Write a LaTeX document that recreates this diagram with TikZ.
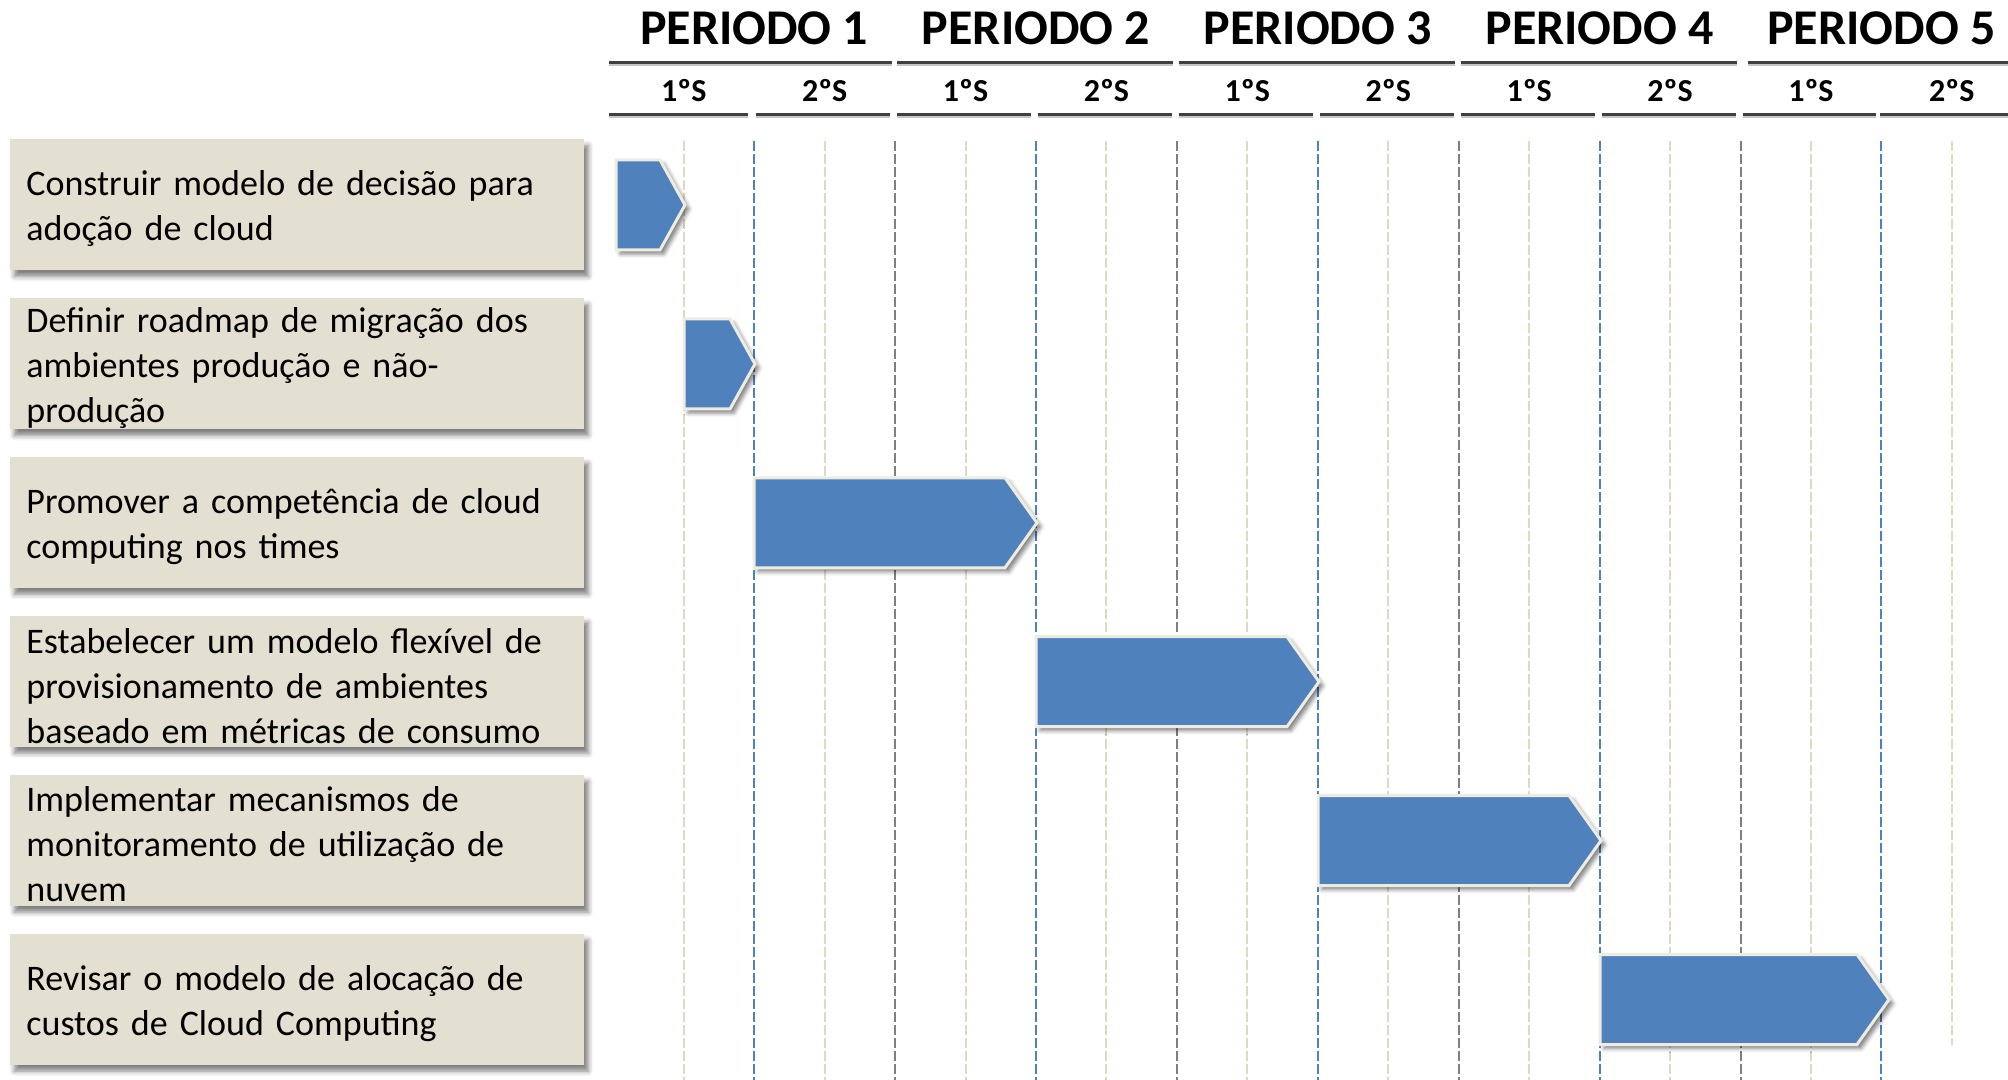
\documentclass[tikz,border=0pt]{standalone}
\usepackage{fontspec}
\setmainfont{Carlito}
\usetikzlibrary{shadows.blur}
\definecolor{taskbg}{RGB}{228,224,209}
\definecolor{barblue}{RGB}{79,129,189}
\definecolor{baredge}{RGB}{238,236,225}
\definecolor{qline}{RGB}{221,217,195}
\definecolor{pline}{RGB}{127,127,127}
\definecolor{hrule}{RGB}{64,64,64}
\tikzset{
  task/.style={fill=taskbg, anchor=west, minimum width=287pt, minimum height=65.5pt,
    inner xsep=8pt, text width=271pt, align=left, font=\fontsize{18}{22.5}\selectfont,
    execute at end node={\par\vspace*{-4pt}},
    blur shadow={shadow xshift=2pt, shadow yshift=-3pt, shadow blur radius=2.5pt, shadow opacity=50}},
  bar/.style={fill=barblue, draw=baredge, line width=1.5pt,
    blur shadow={shadow xshift=2pt, shadow yshift=-2pt, shadow blur radius=2pt, shadow opacity=50}},
  periodo/.style={font=\bfseries\fontsize{25}{30}\selectfont},
  sem/.style={font=\bfseries\fontsize{16}{19}\selectfont},
  toprule/.style={hrule, line width=1.5pt},
  underrule/.style={gray!45, line width=1pt},
  quarter/.style={qline, line width=1pt, dash pattern=on 5pt off 1.5pt},
  half/.style={barblue, line width=1pt, dash pattern=on 5pt off 1.5pt},
  full/.style={pline, line width=1pt, dash pattern=on 5pt off 1.5pt}
}
\begin{document}
\begin{tikzpicture}[x=0.5pt,y=-0.5pt]
\useasboundingbox (0,0) rectangle (2008,1080);

\foreach \k in {1,...,5}
  \node [periodo] (p\k) at (613.3+281.8*\k-140.9,28) {PERIODO \k};
\foreach \k in {1,...,5} {
  \node [sem] (a\k) at (613.3+281.8*\k-211.35,91) {1ºS};
  \node [sem] (b\k) at (613.3+281.8*\k-70.45,91) {2ºS};
}
\draw [underrule] (609,65.5) -- (892,65.5);
\draw [toprule] (609,63) -- (892,63);
\foreach \k in {2,...,4} {
  \draw [underrule] (613.3+281.8*\k-279.8,65.5) -- (613.3+281.8*\k-4,65.5);
  \draw [toprule] (613.3+281.8*\k-279.8,63) -- (613.3+281.8*\k-4,63);
}
\draw [underrule] (1748,65.5) -- (2008,65.5);
\draw [toprule] (1748,63) -- (2008,63);
\draw [underrule] (609,117.5) -- (748,117.5);
\draw [toprule] (609,115) -- (748,115);
\foreach \j in {2,...,9} {
  \draw [underrule] (613.3+140.9*\j-138.9,117.5) -- (613.3+140.9*\j-5,117.5);
  \draw [toprule] (613.3+140.9*\j-138.9,115) -- (613.3+140.9*\j-5,115);
}
\draw [underrule] (1880,117.5) -- (2008,117.5);
\draw [toprule] (1880,115) -- (2008,115);

\foreach \i in {1,3,...,17}
  \draw [quarter] (613.3+70.45*\i,141) -- (613.3+70.45*\i,1080);
\draw [quarter] (1951.9,141) -- (1951.9,1045);
\foreach \i in {2,6,10,14,18}
  \draw [half] (613.3+70.45*\i,141) -- (613.3+70.45*\i,1080);
\foreach \i in {4,8,12,16}
  \draw [full] (613.3+70.45*\i,141) -- (613.3+70.45*\i,1080);

\node [task] (t1) at (10,205) {Construir modelo de decisão para\\adoção de cloud};
\node [task] (t2) at (10,364) {Definir roadmap de migração dos\\ambientes produção e não-\\produção};
\node [task] (t3) at (10,522.8) {Promover a competência de cloud\\computing nos times};
\node [task] (t4) at (10,681.7) {Estabelecer um modelo flexível de\\provisionamento de ambientes\\baseado em métricas de consumo};
\node [task] (t5) at (10,840.6) {Implementar mecanismos de\\monitoramento de utilização de\\nuvem};
\node [task] (t6) at (10,999.5) {Revisar o modelo de alocação de\\custos de Cloud Computing};

\fill [bar] (616,160) -- (660,160) -- (685,205) -- (660,250) -- (616,250) -- cycle;
\fill [bar] (684,319) -- (730,319) -- (755,364) -- (730,409) -- (684,409) -- cycle;
\fill [bar] (754,477.8) -- (1005,477.8) -- (1037,522.8) -- (1005,567.8) -- (754,567.8) -- cycle;
\fill [bar] (1036,636.7) -- (1287,636.7) -- (1319,681.7) -- (1287,726.7) -- (1036,726.7) -- cycle;
\fill [bar] (1318,795.6) -- (1569,795.6) -- (1601,840.6) -- (1569,885.6) -- (1318,885.6) -- cycle;
\fill [bar] (1600,954.5) -- (1857,954.5) -- (1889,999.5) -- (1857,1044.5) -- (1600,1044.5) -- cycle;
\end{tikzpicture}
\end{document}
